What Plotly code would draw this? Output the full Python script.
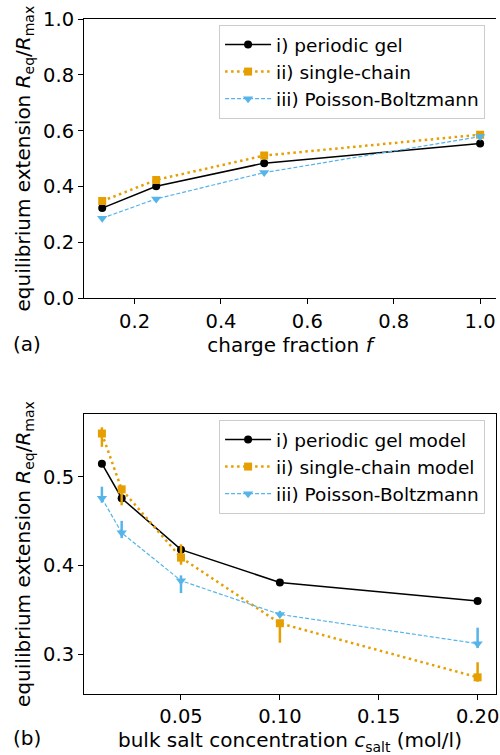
import plotly.graph_objects as go

# ---- data: panel (a) ----
charge_fraction = [0.125, 0.25, 0.5, 1.0]
gel_a = [0.323, 0.401, 0.484, 0.554]
chain_a = [0.348, 0.424, 0.511, 0.586]
pb_a = [0.287, 0.356, 0.450, 0.579]

# ---- data: panel (b) ----
c_salt = [0.01, 0.02, 0.05, 0.10, 0.20]
gel_b = [0.515, 0.476, 0.418, 0.381, 0.360]
chain_b = [0.549, 0.486, 0.409, 0.335, 0.274]
chain_b_plus = [0.007, 0.004, 0.015, 0.004, 0.017]
chain_b_minus = [0.015, 0.018, 0.008, 0.022, 0.005]
pb_b = [0.476, 0.437, 0.383, 0.345, 0.312]
pb_b_plus = [0.013, 0.0135, 0.006, 0.004, 0.018]
pb_b_minus = [0.005, 0.006, 0.014, 0.003, 0.005]

labels_a = ["i) periodic gel", "ii) single-chain", "iii) Poisson-Boltzmann"]
labels_b = ["i) periodic gel model", "ii) single-chain model", "iii) Poisson-Boltzmann"]

BLACK = "#000000"
ORANGE = "#E69F00"
BLUE = "#56B4E9"
FONT = "DejaVu Sans"
TICK = 19.5
LAB = 20
LEG = 18.5

styles = [
    dict(line=dict(color=BLACK, width=1.5), marker=dict(symbol="circle", size=8, color=BLACK)),
    dict(line=dict(color=ORANGE, width=2.5, dash="2.5px,3.5px"), marker=dict(symbol="square", size=8, color=ORANGE)),
    dict(line=dict(color=BLUE, width=1.2, dash="4px,2px"), marker=dict(symbol="triangle-down", size=9, color=BLUE)),
]

fig = go.Figure()

# panel (a)
for i, ys in enumerate([gel_a, chain_a, pb_a]):
    fig.add_trace(go.Scatter(x=charge_fraction, y=ys, name=labels_a[i], mode="lines+markers",
                             legendgroup=f"a{i}", xaxis="x", yaxis="y", legend="legend", **styles[i]))

# panel (b)
errs = [None,
        dict(type="data", symmetric=False, array=chain_b_plus, arrayminus=chain_b_minus,
             color=ORANGE, thickness=2.5, width=0),
        dict(type="data", symmetric=False, array=pb_b_plus, arrayminus=pb_b_minus,
             color=BLUE, thickness=2.5, width=0)]
for i, ys in enumerate([gel_b, chain_b, pb_b]):
    kw = dict(error_y=errs[i]) if errs[i] else {}
    fig.add_trace(go.Scatter(x=c_salt, y=ys, name=labels_b[i], mode="lines+markers",
                             legendgroup=f"b{i}", xaxis="x2", yaxis="y2", legend="legend2",
                             **styles[i], **kw))

axis_common = dict(showline=True, linecolor="black", linewidth=1, ticks="outside", ticklen=5,
                   tickwidth=1, tickcolor="black", showgrid=False, zeroline=False,
                   ticklabeloverflow="allow",
                   tickfont=dict(family=FONT, size=TICK, color="black"))

ytitle = "equilibrium extension <i>R</i><sub>eq</sub>/<i>R</i><sub>max</sub>"

legend_common = dict(xanchor="right", yanchor="top",
                     bgcolor="rgba(255,255,255,0.8)", bordercolor="#cccccc", borderwidth=1,
                     font=dict(family=FONT, size=LEG), tracegroupgap=0, itemwidth=46)

fig.update_layout(
    width=500, height=755,
    margin=dict(l=84, r=1, t=19, b=61),
    paper_bgcolor="white", plot_bgcolor="white",
    font=dict(family=FONT, size=LAB, color="black"),
    xaxis=dict(domain=[0, 1], anchor="y", range=[0.0828, 1.0368], tickvals=[0.2, 0.4, 0.6, 0.8, 1.0],
               tickformat=".1f", mirror=True,
               title=dict(text="charge fraction <i>f</i>", font=dict(family=FONT, size=LAB), standoff=5),
               **axis_common),
    yaxis=dict(domain=[0.5862, 1.0], anchor="x", range=[0, 1.0], tickvals=[0, 0.2, 0.4, 0.6, 0.8, 1.0],
               tickformat=".1f", mirror=False,
               title=dict(text=ytitle, font=dict(family=FONT, size=LAB), standoff=7),
               **axis_common),
    xaxis2=dict(domain=[0, 1], anchor="y2", range=[0.00095, 0.2093], tickvals=[0.05, 0.10, 0.15, 0.20],
                tickformat=".2f", mirror=True,
                title=dict(text="bulk salt concentration <i>c</i><sub>salt</sub> (mol/l)",
                           font=dict(family=FONT, size=LAB), standoff=5),
                **axis_common),
    yaxis2=dict(domain=[0, 0.4148], anchor="x2", range=[0.2552, 0.571], tickvals=[0.3, 0.4, 0.5],
                tickformat=".1f", mirror=True,
                title=dict(text=ytitle, font=dict(family=FONT, size=LAB), standoff=7),
                **axis_common),
    legend=dict(x=(488 - 84) / 415, y=(694 - 25) / 675, **legend_common),
    legend2=dict(x=(488 - 84) / 415, y=(694 - 420) / 675, **legend_common),
)

fig.add_annotation(text="(a)", xref="paper", yref="paper", x=-74 / 415, y=(694 - 358) / 675,
                   xanchor="left", yanchor="bottom", showarrow=False, font=dict(family=FONT, size=LAB))
fig.add_annotation(text="(b)", xref="paper", yref="paper", x=-74 / 415, y=(694 - 752) / 675,
                   xanchor="left", yanchor="bottom", showarrow=False, font=dict(family=FONT, size=LAB))

fig.write_html("out.html", config={"displayModeBar": False},
               post_script="document.body.style.margin='0';document.body.style.padding='0';document.body.style.overflow='hidden';")
